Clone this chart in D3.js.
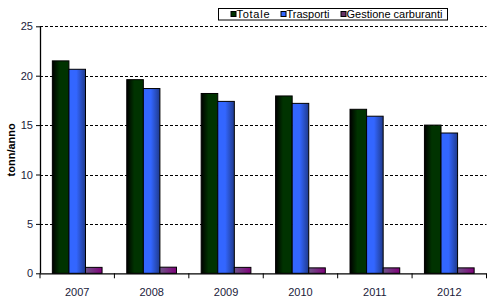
<!DOCTYPE html>
<html><head><meta charset="utf-8">
<script src="https://cdn.jsdelivr.net/npm/d3@7"></script>
<style>body{margin:0;background:#fff}svg{display:block}text{font-family:"Liberation Sans",Arial,sans-serif}</style>
</head><body>
<svg id="c" width="493" height="302"></svg>
<script>
const years = ["2007","2008","2009","2010","2011","2012"];
const seriesNames = ["Totale","Trasporti","Gestione carburanti"];
const totale = [21.5, 19.6, 18.2, 17.95, 16.6, 15.0];
const trasporti = [20.65, 18.7, 17.4, 17.2, 15.9, 14.2];
const gestione = [0.6, 0.62, 0.6, 0.55, 0.55, 0.55];
const yTicks = [0,5,10,15,20,25];

const svg = d3.select("#c");
const m = {l:40, r:6.5, t:26.3, b:28.7};
const W = 493, H = 302;
const x = d3.scaleBand().domain(years).range([m.l, W-m.r]).paddingInner(0.332).paddingOuter(0.166);
const x1 = d3.scaleBand().domain(seriesNames).range([0, x.bandwidth()]);
const y = d3.scaleLinear().domain([0,25]).range([H-m.b, m.t]);

const defs = svg.append("defs");
function grad(id, stops){
  const g = defs.append("linearGradient").attr("id",id).attr("x1","0").attr("x2","1").attr("y1","0").attr("y2","0");
  stops.forEach(s=>g.append("stop").attr("offset",s[0]).attr("stop-color",s[1]));
}
grad("gT", [[0,"#000000"],[0.45,"#003300"],[1,"#003300"]]);
grad("gB", [[0,"#3366ff"],[0.45,"#3366ff"],[1,"#1f3a8c"]]);
grad("gG", [[0,"#6e5688"],[1,"#80007a"]]);
const fills = {"Totale":"url(#gT)","Trasporti":"url(#gB)","Gestione carburanti":"url(#gG)"};
const solid = {"Totale":"#003300","Trasporti":"#3366ff","Gestione carburanti":"#663366"};

// gridlines
svg.append("g").selectAll("line").data(yTicks.filter(d=>d>0)).join("line")
  .attr("x1", m.l).attr("x2", W-m.r).attr("y1", d=>Math.round(y(d))+0.5).attr("y2", d=>Math.round(y(d))+0.5)
  .attr("stroke","#000").attr("stroke-dasharray","3,2");

const data = years.map((yr,i)=>({yr, vals:[
  {s:"Totale", v:totale[i]}, {s:"Trasporti", v:trasporti[i]}, {s:"Gestione carburanti", v:gestione[i]}]}));

svg.append("g").selectAll("g").data(data).join("g")
  .attr("transform", d=>`translate(${x(d.yr)},0)`)
  .selectAll("rect").data(d=>d.vals).join("rect")
  .attr("x", d=>x1(d.s)).attr("width", x1.bandwidth())
  .attr("y", d=>y(d.v)).attr("height", d=>y(0)-y(d.v))
  .attr("fill", d=>fills[d.s]).attr("stroke","#000").attr("stroke-width",1);

// axes
const yAxis = svg.append("g").attr("transform",`translate(${m.l},0)`)
  .call(d3.axisLeft(y).tickValues(yTicks).tickSize(4).tickPadding(3));
yAxis.select(".domain").attr("d", `M0.5,${y(25)}V${y(0)}`).attr("stroke","#000").attr("stroke-width",1.3);
yAxis.selectAll("text").attr("font-size",11).attr("fill","#1a1a3a");

const xAxis = svg.append("g").attr("transform",`translate(0,${y(0)})`)
  .call(d3.axisBottom(x).tickSize(0).tickPadding(15));
xAxis.select(".domain").remove();
xAxis.selectAll("text").attr("font-size",11).attr("fill","#1a1a3a");
svg.append("line").attr("x1",m.l).attr("x2",W-m.r).attr("y1",y(0)+0.5).attr("y2",y(0)+0.5).attr("stroke","#000").attr("stroke-width",1.3);
// band boundary ticks
const bounds = years.map(d=>x(d)-x.step()*x.paddingInner()/2).concat([W-m.r]);
svg.append("g").selectAll("line").data(bounds).join("line")
  .attr("x1",d=>d).attr("x2",d=>d).attr("y1",y(0)).attr("y2",y(0)+5).attr("stroke","#000");

// y label
svg.append("text").attr("transform",`translate(15,${(y(0)+y(25))/2}) rotate(-90)`)
  .attr("text-anchor","middle").attr("font-size",11).attr("font-weight","bold").text("tonn/anno");

// legend
const lg = svg.append("g");
lg.append("rect").attr("x",218.5).attr("y",8.5).attr("width",229).attr("height",11.5).attr("fill","#fff").attr("stroke","#000");
const lx = [230.5, 280.5, 340.5];
const lw = [33, 43, 96];
seriesNames.forEach((s,i)=>{
  lg.append("rect").attr("x",lx[i]+0.5).attr("y",11.5).attr("width",5).attr("height",5).attr("fill",solid[s]).attr("stroke","#000");
  lg.append("text").attr("x",lx[i]+6).attr("y",18).attr("font-size",11)
    .attr("textLength",lw[i]).attr("lengthAdjust","spacing").attr("fill","#000").text(s);
});
</script>
</body></html>
